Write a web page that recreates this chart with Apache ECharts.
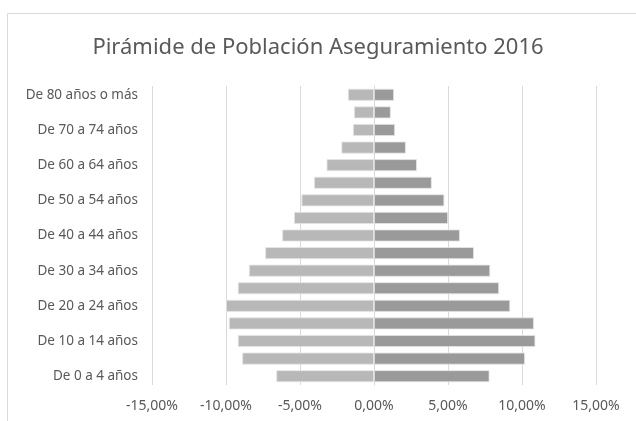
<!DOCTYPE html>
<html>
	<head>
		<meta charset="utf-8">
		<title></title>
		<script src="https://cdn.jsdelivr.net/npm/echarts@6/dist/echarts.min.js"></script>
		<style>
			html, body { margin: 0; padding: 0; background: #fff; }
		</style>
	</head>
	<body>
		<div id="main" style="width: 636px;height:421px;"></div>
		<script>
			// grupos de edad, de abajo hacia arriba
			var grupos = ['De 0 a 4 años', 'De 5 a 9 años', 'De 10 a 14 años', 'De 15 a 19 años',
				'De 20 a 24 años', 'De 25 a 29 años', 'De 30 a 34 años', 'De 35 a 39 años',
				'De 40 a 44 años', 'De 45 a 49 años', 'De 50 a 54 años', 'De 55 a 59 años',
				'De 60 a 64 años', 'De 65 a 69 años', 'De 70 a 74 años', 'De 75 a 79 años',
				'De 80 años o más'];
			// porcentajes (lado izquierdo negativo)
			var izquierda = [-6.6, -8.9, -9.2, -9.8, -10.0, -9.2, -8.45, -7.35, -6.2, -5.4,
				-4.9, -4.05, -3.2, -2.2, -1.42, -1.35, -1.76];
			var derecha = [7.8, 10.2, 10.9, 10.8, 9.2, 8.45, 7.85, 6.75, 5.8, 5.0,
				4.75, 3.9, 2.9, 2.15, 1.42, 1.13, 1.35];
			var ticks = [-15, -10, -5, 0, 5, 10, 15];

			var myChart = echarts.init(document.getElementById('main'));

			var fmt = function(v) {
				return v.toFixed(2).replace('.', ',') + '%';
			};

			var option = {
				backgroundColor: '#fff',
				animation: false,
				textStyle: {
					fontFamily: 'Noto Sans'
				},
				title: {
					text: 'Pirámide de Población Aseguramiento 2016',
					left: 'center',
					top: 32,
					textStyle: {
						color: '#595959',
						fontSize: 22,
						fontWeight: 'normal',
						fontFamily: 'Noto Sans'
					}
				},
				graphic: [{
					type: 'rect',
					shape: { x: 7.5, y: 13.5, width: 700, height: 500 },
					style: { fill: 'none', stroke: '#d9d9d9', lineWidth: 1 },
					silent: true
				}],
				grid: {
					left: 152,
					right: 40,
					top: 86,
					bottom: 36
				},
				xAxis: {
					type: 'value',
					min: ticks[0],
					max: ticks[ticks.length - 1],
					interval: 5,
					axisLine: { show: false },
					axisTick: { show: false },
					axisLabel: {
						color: '#595959',
						fontSize: 14,
						margin: 14,
						formatter: fmt
					},
					splitLine: {
						show: true,
						lineStyle: { color: '#d9d9d9', width: 1 }
					}
				},
				yAxis: {
					type: 'category',
					data: grupos,
					axisLine: {
						show: true,
						onZero: true,
						lineStyle: { color: '#d9d9d9' }
					},
					axisTick: { show: false },
					axisLabel: {
						interval: 1,
						color: '#595959',
						fontSize: 13.5,
						margin: 14
					}
				},
				series: [{
						name: 'Izquierda',
						type: 'bar',
						stack: 'total',
						barCategoryGap: '32%',
						itemStyle: {
							color: '#b8b8b8',
							borderColor: '#e6e6e6',
							borderWidth: 0.8
						},
						data: izquierda
					},
					{
						name: 'Derecha',
						type: 'bar',
						stack: 'total',
						barCategoryGap: '32%',
						itemStyle: {
							color: '#9a9a9a',
							borderColor: '#e6e6e6',
							borderWidth: 0.8
						},
						data: derecha
					}
				]
			};

			myChart.setOption(option);
		</script>
	</body>
</html>
